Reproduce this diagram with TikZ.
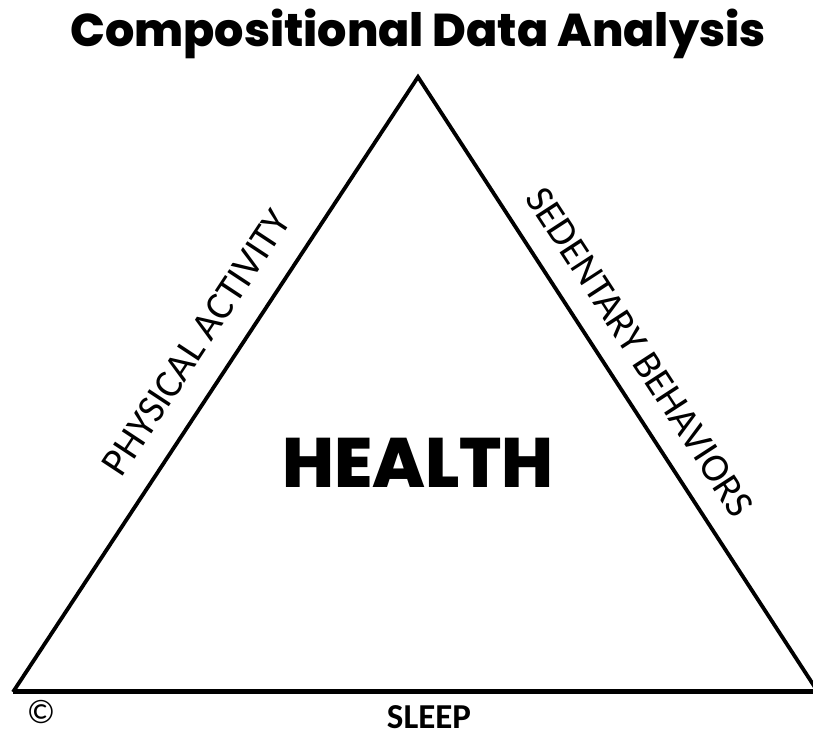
\documentclass[tikz,border=0pt]{standalone}
\usepackage{fontspec}
\setmainfont{Carlito}
\newfontfamily\geofont{Poppins}[BoldFont={Poppins ExtraBold}]
\begin{document}
\begin{tikzpicture}[x=1pt,y=1pt,
  side/.style={line width=3.8pt,line join=miter},
  basestroke/.style={line width=5pt},
  sidelabel/.style={font=\fontsize{40}{40}\selectfont,inner sep=0pt},
  titletext/.style={font=\geofont\bfseries\fontsize{46}{50}\selectfont,inner sep=0pt},
  centertext/.style={font=\geofont\bfseries\fontsize{70}{72}\selectfont,inner sep=0pt},
  basetext/.style={font=\bfseries\fontsize{35}{35}\selectfont,inner sep=0pt}]
  \useasboundingbox (0,0) rectangle (813,738);
  \clip (0,0) rectangle (813,738);

  % corners of the triangle
  \coordinate (L) at (13,46);
  \coordinate (A) at (418,661);
  \coordinate (R) at (818,46);

  % title
  \node[titletext,anchor=base] (title) at (418,691) {Compositional Data Analysis};

  % two slanted sides with their labels
  \draw[side] (L)
    -- node[sidelabel,pos=.533,sloped,above=24pt] (pa) {PHYSICAL ACTIVITY} (A)
    -- node[sidelabel,pos=.479,sloped,above=21pt] (sb) {SEDENTARY BEHAVIORS} (R);

  % base of the triangle
  \draw[basestroke] (L) -- (R);

  % labels
  \node[centertext,anchor=base] (health) at (418,250) {HEALTH};
  \node[basetext,anchor=base] (sleep) at (429,9) {SLEEP};
  \node[font=\fontsize{34}{34}\selectfont,inner sep=0pt] (copy) at (41,26) {©};
\end{tikzpicture}
\end{document}
